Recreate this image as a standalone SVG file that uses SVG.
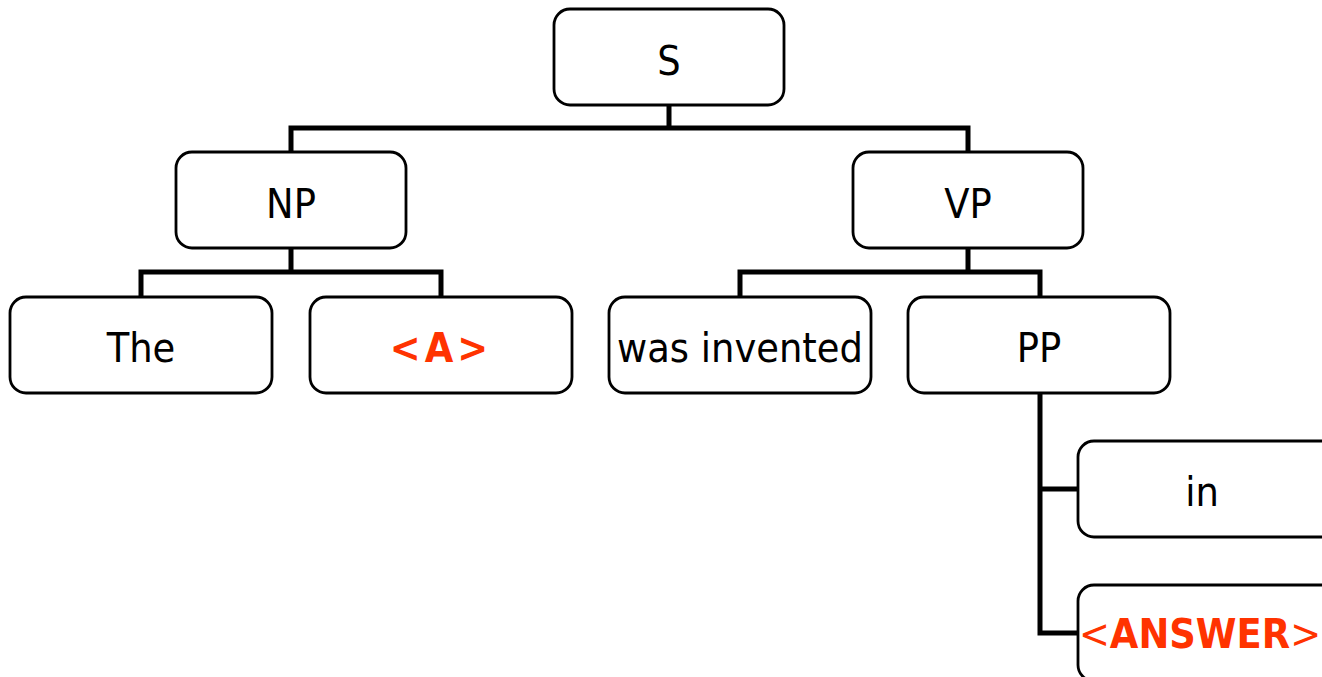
<svg xmlns="http://www.w3.org/2000/svg" width="1322" height="677" viewBox="0 0 1322 677">
<style>
.box{fill:#fff;stroke:#000;stroke-width:2.8}
.t{font-family:"DejaVu Sans Condensed","DejaVu Sans",sans-serif;font-stretch:condensed;font-size:41px;fill:#000;text-anchor:middle}
.red{fill:#FF3300;font-weight:bold}
.c{fill:none;stroke:#000;stroke-width:5;stroke-linecap:square}
</style>
<rect width="1322" height="677" fill="#fff"/>
<g id="connectors">
<path class="c" d="M669 105V128M291 128H968M291 128V152M968 128V152"/>
<path class="c" d="M291 248V272M141 272H441M141 272V297M441 272V297"/>
<path class="c" d="M968 248V272M740 272H1040M740 272V297M1040 272V297"/>
<path class="c" d="M1040 393V633M1040 489H1078M1040 633H1078"/>
</g>
<g id="S"><rect class="box" x="554" y="9" width="230" height="96" rx="16"/><text class="t" x="669" y="75">S</text></g>
<g id="NP"><rect class="box" x="176" y="152" width="230" height="96" rx="16"/><text class="t" x="291" y="218">NP</text></g>
<g id="VP"><rect class="box" x="853" y="152" width="230" height="96" rx="16"/><text class="t" x="968" y="218">VP</text></g>
<g id="The"><rect class="box" x="10" y="297" width="262" height="96" rx="16"/><text class="t" x="141" y="362">The</text></g>
<g id="A"><rect class="box" x="310" y="297" width="262" height="96" rx="16"/><text class="t red" x="441" y="362" letter-spacing="4">&lt;A&gt;</text></g>
<g id="was_invented"><rect class="box" x="609" y="297" width="262" height="96" rx="16"/><text class="t" x="740" y="362">was invented</text></g>
<g id="PP"><rect class="box" x="908" y="297" width="262" height="96" rx="16"/><text class="t" x="1039" y="362">PP</text></g>
<g id="in"><rect class="box" x="1078" y="441" width="262" height="96" rx="16"/><text class="t" x="1202" y="506">in</text></g>
<g id="ANSWER"><rect class="box" x="1078" y="585" width="262" height="96" rx="16"/><text class="t red" x="1200" y="648" font-size="38"><tspan font-weight="normal">&lt;</tspan>ANSWER<tspan font-weight="normal">&gt;</tspan></text></g>
</svg>
